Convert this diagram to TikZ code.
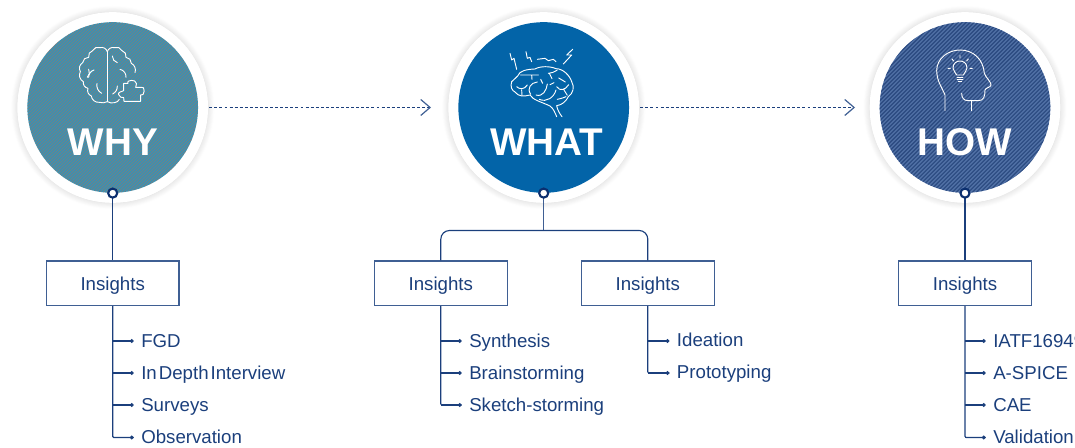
\documentclass[tikz,border=0pt]{standalone}
\usepackage{fontspec}
\setmainfont{Liberation Sans}
\usetikzlibrary{shadows.blur,arrows.meta}
\definecolor{navy}{HTML}{1B3F7C}
\definecolor{dot}{HTML}{0B2F6F}
\definecolor{whyc}{HTML}{3494B6}
\definecolor{whyline}{HTML}{C0684F}
\definecolor{whatc}{HTML}{0364A8}
\definecolor{howc}{HTML}{5070A5}
\definecolor{howline}{HTML}{2B4A80}
\definecolor{boxline}{HTML}{3F5F93}
\tikzset{
 x=0.75pt,y=-0.75pt,
 halo/.style={circle,fill=white,minimum size=143pt,inner sep=0pt,blur shadow={shadow blur steps=8,shadow xshift=0pt,shadow yshift=0pt,shadow blur radius=5pt,shadow opacity=18}},
 disc/.style={circle,minimum size=128pt,inner sep=0pt},
 title/.style={text=white,font=\fontsize{29pt}{30pt}\selectfont\bfseries,inner sep=0pt},
 box/.style={draw=boxline,line width=0.9pt,fill=white,minimum width=99.5pt,minimum height=33.5pt,inner sep=0pt,text=navy,text height=12pt,text depth=0.8pt,font=\fontsize{14pt}{16pt}\selectfont},
 item/.style={text=navy,font=\fontsize{14pt}{16pt}\selectfont,anchor=west,inner sep=0pt,text height=11.5pt,text depth=2pt},
 conn/.style={draw=navy,line width=0.85pt},
 itemtick/.style={draw=navy,line width=0.85pt,-{Circle[length=2.8pt,width=2.8pt,fill=navy]}},
 flow/.style={draw=navy,line width=0.8pt,dash pattern=on 2.2pt off 1.6pt,-{Straight Barb[length=7pt,width=12pt,line width=0.9pt,color=boxline]}},
 port/.style={circle,draw=dot,line width=1.6pt,fill=white,minimum size=6.8pt,inner sep=0pt},
 icon/.style={draw=white,line width=0.7pt,line join=round,line cap=round},
 z/.style={shift={#1},x=0.25pt,y=-0.25pt},
 bump/.style={bend right=45},
}
\begin{document}
\begin{tikzpicture}
\useasboundingbox (0,0) rectangle (1075,448);
% circles
\node[halo] (whyhalo) at (112.7,107.5) {};
\node[halo] (whathalo) at (543.7,107.5) {};
\node[halo] (howhalo) at (965,107.5) {};
\node[disc,fill=whyc] (why) at (112.7,107.5) {};
\node[disc,fill=whatc] (what) at (543.7,107.5) {};
\node[disc,fill=howc] (how) at (965,107.5) {};
\begin{scope}
\clip (112.7,107.5) circle[radius=85.3];
\foreach \i in {-180,-177,...,180} {\draw[draw=whyline,opacity=.6,line width=.4pt] (112.7+\i-90,197.5) -- ++(180,-180);}
\end{scope}
\begin{scope}
\clip (965,107.5) circle[radius=85.3];
\foreach \i in {-180,-176,...,180} {\draw[draw=howline,line width=.8pt] (965+\i-90,197.5) -- ++(180,-180);}
\end{scope}
% titles
\node[title] (whyt) at (112.7,142) {WHY};
\node[title] (whatt) at (547,142) {WHAT};
\node[title] (howt) at (965,142) {HOW};
% icon WHY: brain + puzzle (3x zoom coordinates)
\begin{scope}[icon,z={(0,0)}]
\draw (322,155) to[bump] (300,143) to[bump] (278,152) to[bump] (266,172) to[bump] (248,188) to[bump] (241,215) to[bump] (250,245) to[bump] (264,265) to[bump] (274,288) to[bump] (298,307) to[bend right=20] (322,305);
\draw (322,155) to[bend left=45] (344,143) to[bend left=45] (366,152) to[bend left=45] (378,172) to[bend left=45] (394,190) to[bend left=40] (405,218);
\draw (322,155) -- (322,303);
\draw (322,305) to[bend right=20] (344,308) to[bend right=25] (358,298);
\draw (266,208) to[bend left=35] (262,232);
\draw (282,210) to[bend right=35] (266,232);
\draw (291,250) to[bend right=35] (305,280);
\draw (337,168) to[bend right=35] (352,188);
\draw (360,208) to[bend left=40] (378,232);
\draw (352,258) to[bend left=30] (338,282);
\draw (372,304) -- (422,304) -- (422,285) to[out=-30,in=30,looseness=1.6] (424,262) -- (407,262) to[out=60,in=-20] (404,243) to[out=160,in=20] (386,243) to[out=-160,in=120] (384,250) -- (382,250) -- (371,250) -- (371,272) to[out=-160,in=120] (356,284) to[out=-60,in=-160] (371,293) -- cycle;
\end{scope}
% icon WHAT (zoom 8 coordinates)
\begin{scope}[icon,z={(500,40)}]
\draw (35,125) .. controls (42,118) and (50,112) .. (53,108) .. controls (58,92) and (80,88) .. (105,87) .. controls (120,78) and (150,78) .. (168,86) .. controls (190,86) and (210,108) .. (215,125) .. controls (224,140) and (220,160) .. (205,170) .. controls (198,185) and (185,195) .. (170,197) .. controls (172,208) and (178,220) .. (186,230);
\draw (35,125) .. controls (30,140) and (36,152) .. (45,156) .. controls (55,170) and (72,170) .. (90,165) .. controls (98,180) and (125,186) .. (150,198) .. controls (160,205) and (165,218) .. (170,230);
\draw (62,105) -- (115,105) (95,105) -- (96,118);
\draw (50,140) .. controls (58,148) and (72,150) .. (82,135) (65,150) -- (66,166);
\draw (92,163) .. controls (80,145) and (92,128) .. (112,126);
\draw (122,118) -- (128,130) (142,132) .. controls (140,150) and (128,172) .. (108,165);
\draw (145,100) .. controls (155,100) and (162,96) .. (172,90) (148,100) -- (156,116);
\draw (168,150) .. controls (162,172) and (140,188) .. (118,178);
\draw (170,140) .. controls (180,155) and (196,150) .. (206,134) (192,150) -- (202,166);
\draw (176,114) -- (196,126);
\draw (150,134) -- (162,128);
\draw (172,178) .. controls (186,175) and (194,172) .. (198,170);
\draw (30,40) -- (35,60) -- (42,55) -- (50,88);
\draw (78,35) -- (82,55) -- (90,52) -- (95,65);
\draw (112,58) -- (135,55) -- (145,62) -- (160,58) -- (168,65);
\draw (218,28) -- (200,45) -- (215,45) -- (190,72);
\end{scope}
% icon HOW (zoom 9 coordinates)
\begin{scope}[icon,z={(925,40)}]
\draw (60,212) -- (60,165) .. controls (50,140) and (36,125) .. (35,92) .. controls (35,55) and (70,30) .. (105,30) .. controls (145,30) and (175,58) .. (178,100) .. controls (182,112) and (198,125) .. (198,135) .. controls (198,142) and (182,143) .. (180,150) .. controls (180,170) and (176,182) .. (160,182) -- (128,182) .. controls (116,182) and (110,172) .. (110,160);
\draw (140,182) -- (140,212);
\draw (95,105) .. controls (92,95) and (84,94) .. (84,84) .. controls (84,56) and (126,56) .. (126,84) .. controls (126,94) and (118,95) .. (115,105) -- cycle;
\draw (96,113) -- (114,113) (96,119) -- (114,119) (100,125) -- (110,125);
\draw (105,47) -- (105,54) (81,57) -- (86,63) (130,57) -- (125,63) (69,85) -- (76,85) (135,85) -- (142,85);
\end{scope}
% flow arrows
\coordinate (a1) at (431,107.5);
\coordinate (a2) at (855,107.5);
\path (why.east) ++(11,0) coordinate (st1);
\path (what.east) ++(11,0) coordinate (st2);
\draw[flow] (st1) -- (a1);
\draw[flow] (st2) -- (a2);
% boxes
\node[box] (b1) at (112.7,283.3) {Insights};
\node[box] (b2) at (440.8,283.3) {Insights};
\node[box] (b3) at (647.8,283.3) {Insights};
\node[box] (b4) at (965,283.3) {Insights};
% items
\foreach \n/\t/\y in {f1/FGD/341,f2/{In\hspace{1.5pt}Depth\hspace{1.5pt}Interview}/373,f3/Surveys/405,f4/Observation/437.5}
  \node[item] (\n) at (141,\y) {\t};
\foreach \n/\t/\y in {s1t/Synthesis/341,s2t/Brainstorming/373,s3t/Sketch-storming/405}
  \node[item] (\n) at (469,\y) {\t};
\foreach \n/\t/\y in {i1/Ideation/341,i2/Prototyping/373}
  \node[item] (\n) at (676.7,\y) {\raisebox{.75pt}{\t}};
\foreach \n/\t/\y in {h1/IATF16949/341,h2/A-SPICE/373,h3/CAE/405,h4/Validation/437.5}
  \node[item] (\n) at (993,\y) {\t};
% connectors
\draw[conn] (why.south) -- (b1.north);
\draw[conn] (how.south) -- (b4.north);
\draw[conn,draw=boxline] (what.south) -- ++(0,37.4) coordinate (j);
\draw[conn,rounded corners=6.5pt] (b2.north) |- (j) -| (b3.north);
\draw[conn,rounded corners=0.8pt] (b1.south) |- ([xshift=-5.5pt]f4.west);
\draw[conn,rounded corners=0.8pt] (b4.south) |- ([xshift=-5.5pt]h4.west);
\draw[conn,rounded corners=0.8pt] (b2.south) |- ([xshift=-5.5pt]s3t.west);
\draw[conn,rounded corners=0.8pt] (b3.south) |- ([xshift=-5.5pt]i2.west);
\foreach \n in {f1,f2,f3,f4} \draw[itemtick] (b1.south |- \n.west) -- ([xshift=-5.5pt]\n.west);
\foreach \n in {h1,h2,h3,h4} \draw[itemtick] (b4.south |- \n.west) -- ([xshift=-5.5pt]\n.west);
\foreach \n in {s1t,s2t,s3t} \draw[itemtick] (b2.south |- \n.west) -- ([xshift=-5.5pt]\n.west);
\foreach \n in {i1,i2} \draw[itemtick] (b3.south |- \n.west) -- ([xshift=-5.5pt]\n.west);
% ports
\node[port] (p1) at (why.south) {};
\node[port] (p2) at (what.south) {};
\node[port] (p3) at (how.south) {};
\end{tikzpicture}
\end{document}
